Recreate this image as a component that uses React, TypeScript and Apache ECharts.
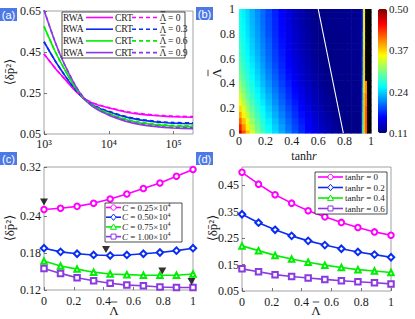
import React, { useEffect, useRef } from "react";
import * as echarts from "echarts";

const SERIF = '"Liberation Serif", "Times New Roman", "DejaVu Serif", serif';
const TXT = "#1a1a1a";
const AX = "#8c8c8c";

// ---------- panel (a) ----------
const aC = [1000, 1500, 2000, 3000, 4000, 5000, 7000, 10000, 15000, 20000, 30000, 50000, 70000, 100000, 200000];
const aRwa0 = [0.44, 0.37, 0.325, 0.262, 0.228, 0.208, 0.19, 0.177, 0.163, 0.155, 0.147, 0.14, 0.137, 0.134, 0.132];
const aRwa3 = [0.5, 0.405, 0.345, 0.268, 0.226, 0.201, 0.176, 0.158, 0.14, 0.13, 0.119, 0.11, 0.106, 0.103, 0.1];
const aRwa6 = [0.575, 0.45, 0.375, 0.278, 0.227, 0.199, 0.17, 0.149, 0.128, 0.117, 0.105, 0.096, 0.092, 0.089, 0.086];
const aRwa9 = [0.655, 0.495, 0.4, 0.29, 0.23, 0.197, 0.165, 0.142, 0.121, 0.109, 0.097, 0.087, 0.082, 0.079, 0.076];
const aCrt0 = [0.44, 0.37, 0.325, 0.263, 0.229, 0.21, 0.192, 0.179, 0.166, 0.158, 0.15, 0.143, 0.14, 0.137, 0.135];
const aCrt3 = [0.5, 0.405, 0.345, 0.269, 0.228, 0.203, 0.179, 0.161, 0.143, 0.133, 0.122, 0.113, 0.109, 0.106, 0.104];
const aCrt6 = [0.575, 0.45, 0.375, 0.279, 0.229, 0.201, 0.173, 0.152, 0.131, 0.12, 0.108, 0.099, 0.095, 0.092, 0.09];
const aCrt9 = [0.655, 0.495, 0.4, 0.291, 0.232, 0.199, 0.167, 0.145, 0.124, 0.112, 0.1, 0.09, 0.085, 0.082, 0.08];
const aLegendVals = ["0", "0.3", "0.6", "0.9"];
const aYTicks = [0.05, 0.25, 0.45, 0.65];
const aXTicks = [1000, 10000, 100000];
const aXTickLabels = ["10³", "10⁴", "10⁵"];

// ---------- panel (b) ----------
const hmXEdges = [0, 0.02, 0.05, 0.08, 0.12, 0.16, 0.2, 0.25, 0.3, 0.35, 0.4, 0.45, 0.5, 0.55, 0.6, 0.65, 0.7, 0.75, 0.8, 0.85, 0.9, 0.93, 0.94, 0.955, 0.97, 1];
const hmYEdges = [0, 0.025, 0.075, 0.125, 0.175, 0.225, 0.275, 0.325, 0.375, 0.425, 0.475, 0.525, 0.575, 0.625, 0.675, 0.725, 0.775, 0.825, 0.875, 0.925, 0.975, 1];
// rows from Λ̄ = 0 (bottom) to Λ̄ = 1 (top), columns from tanh r = 0 to 1; -1 = black (no value)
const hmRows = [
  [0.475, 0.422, 0.378, 0.34, 0.307, 0.284, 0.263, 0.243, 0.225, 0.207, 0.191, 0.176, 0.162, 0.15, 0.139, 0.13, 0.122, 0.116, 0.112, 0.113, 0.113, 0.25, 0.38, 0.42, -1],
  [0.442, 0.398, 0.36, 0.327, 0.297, 0.276, 0.257, 0.238, 0.22, 0.202, 0.186, 0.172, 0.158, 0.146, 0.136, 0.128, 0.12, 0.114, 0.112, 0.113, 0.114, 0.25, 0.38, 0.42, -1],
  [0.414, 0.378, 0.345, 0.314, 0.289, 0.27, 0.251, 0.232, 0.214, 0.197, 0.182, 0.168, 0.155, 0.143, 0.133, 0.125, 0.118, 0.113, 0.112, 0.113, 0.114, 0.24, 0.38, 0.42, -1],
  [0.389, 0.358, 0.329, 0.302, 0.28, 0.262, 0.244, 0.226, 0.208, 0.192, 0.177, 0.163, 0.151, 0.14, 0.13, 0.122, 0.116, 0.112, 0.113, 0.113, 0.114, 0.24, 0.38, 0.42, -1],
  [0.368, 0.342, 0.316, 0.293, 0.273, 0.256, 0.238, 0.22, 0.203, 0.187, 0.173, 0.159, 0.147, 0.136, 0.128, 0.12, 0.114, 0.112, 0.113, 0.114, 0.115, 0.23, 0.38, 0.42, -1],
  [0.35, 0.327, 0.304, 0.284, 0.265, 0.249, 0.232, 0.214, 0.197, 0.182, 0.168, 0.155, 0.143, 0.133, 0.125, 0.118, 0.113, 0.112, 0.113, 0.114, 0.115, 0.23, 0.38, 0.41, -1],
  [0.336, 0.314, 0.294, 0.276, 0.259, 0.243, 0.227, 0.209, 0.193, 0.177, 0.163, 0.151, 0.14, 0.131, 0.123, 0.117, 0.112, 0.113, 0.113, 0.114, 0.115, 0.22, 0.38, 0.41, -1],
  [0.322, 0.304, 0.286, 0.27, 0.253, 0.238, 0.221, 0.204, 0.188, 0.174, 0.16, 0.148, 0.137, 0.128, 0.121, 0.115, 0.112, 0.113, 0.114, 0.115, 0.116, 0.22, 0.37, 0.4, -1],
  [0.311, 0.294, 0.279, 0.263, 0.247, 0.232, 0.216, 0.199, 0.183, 0.169, 0.156, 0.144, 0.134, 0.126, 0.119, 0.113, 0.112, 0.113, 0.114, 0.115, 0.116, 0.21, 0.37, 0.4, -1],
  [0.301, 0.287, 0.273, 0.258, 0.242, 0.228, 0.211, 0.195, 0.179, 0.165, 0.153, 0.141, 0.132, 0.124, 0.117, 0.112, 0.112, 0.113, 0.114, 0.115, 0.116, 0.21, 0.37, -1, -1],
  [0.294, 0.281, 0.267, 0.253, 0.238, 0.223, 0.207, 0.191, 0.176, 0.162, 0.15, 0.139, 0.13, 0.122, 0.116, 0.112, 0.113, 0.114, 0.114, 0.115, 0.116, 0.2, 0.37, -1, -1],
  [0.288, 0.276, 0.263, 0.249, 0.234, 0.219, 0.203, 0.187, 0.173, 0.159, 0.147, 0.137, 0.128, 0.121, 0.115, 0.112, 0.113, 0.114, 0.115, 0.115, 0.116, 0.2, 0.37, -1, -1],
  [0.283, 0.271, 0.259, 0.245, 0.23, 0.216, 0.2, 0.184, 0.17, 0.157, 0.145, 0.135, 0.127, 0.119, 0.113, 0.112, 0.113, 0.114, 0.115, 0.116, 0.117, 0.2, 0.37, -1, -1],
  [0.279, 0.267, 0.255, 0.241, 0.227, 0.212, 0.197, 0.182, 0.168, 0.155, 0.143, 0.133, 0.125, 0.118, 0.113, 0.112, 0.113, 0.114, 0.115, 0.116, 0.117, 0.19, 0.37, -1, -1],
  [0.275, 0.264, 0.252, 0.238, 0.224, 0.21, 0.195, 0.179, 0.165, 0.153, 0.141, 0.132, 0.124, 0.117, 0.112, 0.112, 0.113, 0.114, 0.115, 0.116, 0.117, 0.19, 0.36, -1, -1],
  [0.272, 0.261, 0.249, 0.236, 0.221, 0.207, 0.193, 0.177, 0.163, 0.151, 0.14, 0.131, 0.123, 0.116, 0.112, 0.113, 0.113, 0.114, 0.115, 0.116, 0.117, 0.19, 0.36, -1, -1],
  [0.268, 0.258, 0.246, 0.233, 0.219, 0.205, 0.19, 0.175, 0.161, 0.15, 0.139, 0.13, 0.122, 0.116, 0.112, 0.113, 0.113, 0.115, 0.115, 0.116, 0.117, 0.19, 0.36, -1, -1],
  [0.266, 0.256, 0.244, 0.231, 0.217, 0.203, 0.188, 0.174, 0.16, 0.148, 0.138, 0.129, 0.121, 0.115, 0.112, 0.113, 0.114, 0.115, 0.115, 0.116, 0.117, 0.18, 0.36, -1, -1],
  [0.264, 0.254, 0.242, 0.229, 0.215, 0.201, 0.187, 0.173, 0.159, 0.147, 0.136, 0.128, 0.12, 0.114, 0.112, 0.113, 0.114, 0.115, 0.116, 0.116, 0.118, 0.18, 0.36, -1, -1],
  [0.262, 0.252, 0.241, 0.228, 0.214, 0.2, 0.185, 0.171, 0.158, 0.146, 0.135, 0.127, 0.12, 0.114, 0.112, 0.113, 0.114, 0.115, 0.116, 0.116, 0.118, 0.18, 0.36, -1, -1],
  [0.261, 0.251, 0.24, 0.227, 0.212, 0.199, 0.185, 0.17, 0.157, 0.145, 0.135, 0.127, 0.119, 0.114, 0.112, 0.113, 0.114, 0.115, 0.116, 0.117, 0.118, 0.18, 0.36, -1, -1],
];
const whiteLineX = [0.79, 0.6];
const whiteLineY = [0, 1];
const cbTicks = [0.11, 0.24, 0.37, 0.5];

// ---------- panel (c) ----------
const lam = [0, 0.111, 0.222, 0.333, 0.444, 0.556, 0.667, 0.778, 0.889, 1];
const cC025 = [0.251, 0.253, 0.256, 0.261, 0.268, 0.276, 0.285, 0.294, 0.305, 0.316];
const cC050 = [0.188, 0.182, 0.179, 0.177, 0.176, 0.177, 0.179, 0.181, 0.184, 0.188];
const cC075 = [0.167, 0.159, 0.154, 0.149, 0.146, 0.145, 0.144, 0.144, 0.144, 0.146];
const cC100 = [0.155, 0.147, 0.14, 0.135, 0.131, 0.128, 0.127, 0.125, 0.124, 0.124];
const cMinX = [0, 0.416, 0.794, 0.99];
const cMinY = [0.263, 0.186, 0.151, 0.134];
const cLegend = ["0.25", "0.50", "0.75", "1.00"];
const cYTicks = [0.12, 0.18, 0.24, 0.32];

// ---------- panel (d) ----------
const dT0 = [0.5, 0.455, 0.415, 0.383, 0.354, 0.331, 0.31, 0.291, 0.274, 0.261];
const dT2 = [0.341, 0.309, 0.282, 0.259, 0.24, 0.224, 0.21, 0.198, 0.188, 0.178];
const dT4 = [0.221, 0.203, 0.185, 0.171, 0.159, 0.148, 0.139, 0.131, 0.126, 0.12];
const dT6 = [0.134, 0.123, 0.112, 0.105, 0.099, 0.094, 0.089, 0.085, 0.081, 0.077];
const dLegend = ["0", "0.2", "0.4", "0.6"];
const dYTicks = [0.05, 0.15, 0.25, 0.35, 0.45];

const COLORS = ["#ff00ff", "#0a2df0", "#00ee00", "#8a3be0"];
const JET = ["#000080", "#0000ff", "#0080ff", "#00ffff", "#80ff80", "#ffff00", "#ff8000", "#ff0000", "#800000"];
const SYMBOLS = ["emptyCircle", "emptyDiamond", "emptyTriangle", "emptyRect"];

const G = {
  a: { left: 44, top: 11, width: 149, height: 123 },
  b: { left: 239, top: 9, width: 132, height: 124 },
  cb: { left: 378, top: 9, width: 9, height: 124 },
  c: { left: 44, top: 167, width: 149, height: 123 },
  d: { left: 242, top: 167, width: 149, height: 124 },
};

const lbl = (extra: any = {}) => ({ fontFamily: SERIF, fontSize: 12, color: TXT, ...extra });
const tick = { show: true, inside: true, length: 3, lineStyle: { color: "#555", width: 0.8 } };

function zip(xs: number[], ys: number[]) {
  return xs.map((x, i) => [x, ys[i]]);
}

// Λ with a macron drawn as a short line above it
function lambdaBar(x: number, y: number, size: number, rotation = 0, z = 13) {
  const w = size * 0.5;
  const top = -size * 0.5;
  return {
    type: "group", x, y, rotation, z,
    children: [
      { type: "text", x: 0, y: 0, z, style: { text: "Λ", fill: TXT, font: `${size}px ${SERIF}`, textAlign: "center", textVerticalAlign: "middle" } },
      { type: "line", z, shape: { x1: -w / 2, y1: top - 1.5, x2: w / 2, y2: top - 1.5 }, style: { stroke: TXT, lineWidth: 0.8 } },
    ],
  };
}

function legendSymbol(kind: number, cx: number, cy: number, color: string) {
  const st = { fill: "#fff", stroke: color, lineWidth: 1 };
  if (kind === 0) return { type: "circle", shape: { cx, cy, r: 2.6 }, style: st };
  if (kind === 1) return { type: "polygon", shape: { points: [[cx, cy - 3.2], [cx + 2.6, cy], [cx, cy + 3.2], [cx - 2.6, cy]] }, style: st };
  if (kind === 2) return { type: "polygon", shape: { points: [[cx, cy - 3], [cx + 3, cy + 2.4], [cx - 3, cy + 2.4]] }, style: st };
  return { type: "rect", shape: { x: cx - 2.5, y: cy - 2.5, width: 5, height: 5 }, style: st };
}

function buildOption() {
  const hmData: number[][] = [];
  hmRows.forEach((row, j) => {
    row.forEach((v, i) => {
      hmData.push([hmXEdges[i], hmXEdges[i + 1], hmYEdges[j], hmYEdges[j + 1], v]);
    });
  });

  const series: any[] = [];
  // (a)
  const aR = [aRwa0, aRwa3, aRwa6, aRwa9];
  const aT = [aCrt0, aCrt3, aCrt6, aCrt9];
  aR.forEach((d, k) => {
    series.push({
      type: "line", xAxisIndex: 0, yAxisIndex: 0, data: zip(aC, d), smooth: 0.3, symbol: "none",
      lineStyle: { color: COLORS[k], width: 1.6 }, z: 2,
    });
  });
  aT.forEach((d, k) => {
    series.push({
      type: "line", xAxisIndex: 0, yAxisIndex: 0, data: zip(aC, d), smooth: 0.3, symbol: "none",
      lineStyle: { color: COLORS[k], width: 1.6, type: [4, 3] }, z: 3,
    });
  });
  // (b) heatmap
  const hmIndex = series.length;
  series.push({
    type: "custom", xAxisIndex: 1, yAxisIndex: 1, data: hmData,
    encode: { x: [0, 1], y: [2, 3] },
    renderItem: (_p: any, api: any) => {
      const p0 = api.coord([api.value(0), api.value(3)]);
      const p1 = api.coord([api.value(1), api.value(2)]);
      const v = api.value(4);
      return {
        type: "rect",
        shape: { x: p0[0], y: p0[1], width: p1[0] - p0[0] + 0.6, height: p1[1] - p0[1] + 0.6 },
        style: { fill: v < 0 ? "#000" : api.visual("color") },
      };
    },
    silent: true, z: 1,
  });
  series.push({
    type: "line", xAxisIndex: 1, yAxisIndex: 1, data: zip(whiteLineX, whiteLineY), symbol: "none",
    lineStyle: { color: "#fff", width: 1.1 }, z: 5,
  });
  // (c)
  [cC025, cC050, cC075, cC100].forEach((d, k) => {
    series.push({
      type: "line", xAxisIndex: 3, yAxisIndex: 3, data: zip(lam, d), symbol: SYMBOLS[k], symbolSize: k === 1 ? 6.5 : 5.5,
      lineStyle: { color: COLORS[k], width: 1.6 }, itemStyle: { color: COLORS[k], borderWidth: 1 }, z: 3,
    });
  });
  series.push({
    type: "scatter", xAxisIndex: 3, yAxisIndex: 3, data: zip(cMinX, cMinY), symbol: "triangle", symbolRotate: 180,
    symbolSize: [8, 7], itemStyle: { color: "#000" }, z: 6,
  });
  // (d)
  [dT0, dT2, dT4, dT6].forEach((d, k) => {
    series.push({
      type: "line", xAxisIndex: 4, yAxisIndex: 4, data: zip(lam, d), symbol: SYMBOLS[k], symbolSize: k === 1 ? 6.5 : 5.5,
      lineStyle: { color: COLORS[k], width: 1.6 }, itemStyle: { color: COLORS[k], borderWidth: 1 }, z: 3,
    });
  });

  const graphic: any[] = [];
  // panel tags
  const tags = [["(a)", 0, 8], ["(b)", 196, 7], ["(c)", 0, 152], ["(d)", 196, 152]] as const;
  tags.forEach(([t, x, y]) => {
    graphic.push({ type: "rect", shape: { x, y, width: 17, height: 13 }, style: { fill: "#4d79e6" }, z: 20 });
    graphic.push({
      type: "text", x: x + 8.5, y: y + 6.8, z: 21,
      style: { text: t, fill: "#fff", font: '11px "Liberation Sans", Arial, sans-serif', textAlign: "center", textVerticalAlign: "middle" },
    });
  });
  // axis titles
  const yLab = "⟨δp̄²⟩";
  [[9, 72], [9, 228], [212, 228]].forEach(([x, y]) => {
    graphic.push({
      type: "text", x, y, rotation: Math.PI / 2, z: 10,
      style: { text: yLab, fill: TXT, font: `13px ${SERIF}`, textAlign: "center", textVerticalAlign: "middle" },
    });
  });
  graphic.push(lambdaBar(216, 73, 13, Math.PI / 2, 10));
  graphic.push({
    type: "text", x: 304, y: 156, z: 10,
    style: {
      text: "tanh{i|r}", fill: TXT, font: `12px ${SERIF}`, textAlign: "center", textVerticalAlign: "middle",
      rich: { i: { fontStyle: "italic", fontFamily: SERIF, fontSize: 12, fill: TXT } },
    },
  });
  graphic.push(lambdaBar(114, 310, 13, 0, 10));
  graphic.push(lambdaBar(316, 310, 13, 0, 10));

  // legend (a)
  graphic.push({ type: "rect", shape: { x: 62, y: 12, width: 123, height: 46 }, style: { fill: "#fff", stroke: "#222", lineWidth: 0.8 }, z: 12 });
  aLegendVals.forEach((t, k) => {
    const cy = 17.5 + k * 11.7;
    graphic.push({ type: "text", x: 63, y: cy, z: 13, style: { text: "RWA", fill: TXT, font: `9.5px ${SERIF}`, textVerticalAlign: "middle" } });
    graphic.push({ type: "line", shape: { x1: 86, y1: cy, x2: 113, y2: cy }, style: { stroke: COLORS[k], lineWidth: 1.6 }, z: 13 });
    graphic.push({ type: "text", x: 115, y: cy, z: 13, style: { text: "CRT", fill: TXT, font: `9.5px ${SERIF}`, textVerticalAlign: "middle" } });
    graphic.push({ type: "line", shape: { x1: 132, y1: cy, x2: 158, y2: cy }, style: { stroke: COLORS[k], lineWidth: 1.6, lineDash: [4, 3] }, z: 13 });
    graphic.push(lambdaBar(163, cy + 0.5, 9.5));
    graphic.push({ type: "text", x: 168, y: cy, z: 13, style: { text: `= ${t}`, fill: TXT, font: `9.5px ${SERIF}`, textVerticalAlign: "middle" } });
  });

  // legend (c)
  graphic.push({ type: "rect", shape: { x: 105, y: 203, width: 77, height: 39 }, style: { fill: "#fff", stroke: "#222", lineWidth: 0.8 }, z: 12 });
  cLegend.forEach((t, k) => {
    const cy = 207.5 + k * 9.7;
    graphic.push({ type: "line", shape: { x1: 106, y1: cy, x2: 121, y2: cy }, style: { stroke: COLORS[k], lineWidth: 1.6 }, z: 13 });
    graphic.push({ ...legendSymbol(k, 113.5, cy, COLORS[k]), z: 14 });
    graphic.push({
      type: "text", x: 122, y: cy, z: 13,
      style: {
        text: `{i|C} = ${t}×10{s|4}`, fill: TXT, font: `9px ${SERIF}`, textVerticalAlign: "middle",
        rich: { i: { fontStyle: "italic", fontFamily: SERIF, fontSize: 9, fill: TXT }, s: { fontSize: 6, fontFamily: SERIF, fill: TXT, padding: [0, 0, 5, 0] } },
      },
    });
  });

  // legend (d)
  graphic.push({ type: "rect", shape: { x: 315, y: 172, width: 72, height: 42 }, style: { fill: "#fff", stroke: "#222", lineWidth: 0.8 }, z: 12 });
  dLegend.forEach((t, k) => {
    const cy = 177 + k * 10.5;
    graphic.push({ type: "line", shape: { x1: 318, y1: cy, x2: 343, y2: cy }, style: { stroke: COLORS[k], lineWidth: 1.6 }, z: 13 });
    graphic.push({ ...legendSymbol(k, 330.5, cy, COLORS[k]), z: 14 });
    graphic.push({
      type: "text", x: 345, y: cy, z: 13,
      style: {
        text: `tanh{i|r} = ${t}`, fill: TXT, font: `9px ${SERIF}`, textVerticalAlign: "middle",
        rich: { i: { fontStyle: "italic", fontFamily: SERIF, fontSize: 9, fill: TXT } },
      },
    });
  });

  const boxed = { show: true, borderColor: AX, borderWidth: 0.8, backgroundColor: "transparent" };
  const noLine = { show: false };

  return {
    animation: false,
    backgroundColor: "#fff",
    grid: [
      { ...G.a, ...boxed },
      { ...G.b, show: false },
      { ...G.cb, show: false },
      { ...G.c, ...boxed },
      { ...G.d, ...boxed },
    ],
    xAxis: [
      {
        gridIndex: 0, type: "log", logBase: 10, min: 1000, max: 200000, axisLine: noLine, splitLine: { show: false },
        axisTick: { ...tick, customValues: aXTicks },
        axisLabel: {
          ...lbl(), margin: 4, customValues: aXTicks,
          formatter: (v: number) => aXTickLabels[aXTicks.indexOf(Math.round(v))] ?? "",
        },
      },
      {
        gridIndex: 1, type: "value", min: 0, max: 1, interval: 0.2, axisLine: noLine, axisTick: { show: false },
        splitLine: { show: false }, axisLabel: { ...lbl(), margin: 2 },
      },
      { gridIndex: 2, type: "value", min: 0, max: 1, show: false },
      {
        gridIndex: 3, type: "value", min: 0, max: 1, interval: 0.2, axisLine: noLine, axisTick: tick,
        splitLine: { show: false }, axisLabel: { ...lbl(), margin: 5 },
      },
      {
        gridIndex: 4, type: "value", min: 0, max: 1, interval: 0.2, axisLine: noLine, axisTick: tick,
        splitLine: { show: false }, axisLabel: { ...lbl(), margin: 5 },
      },
    ],
    yAxis: [
      {
        gridIndex: 0, type: "value", min: 0.05, max: 0.65, axisLine: noLine, splitLine: { show: false },
        axisTick: { ...tick, customValues: aYTicks },
        axisLabel: { ...lbl(), margin: 3, customValues: aYTicks, formatter: (v: number) => v.toFixed(2) },
      },
      {
        gridIndex: 1, type: "value", min: 0, max: 1, interval: 0.2, axisLine: noLine, axisTick: { show: false },
        splitLine: { show: false }, axisLabel: { ...lbl(), margin: 4 },
      },
      {
        gridIndex: 2, type: "value", position: "right", min: 0.11, max: 0.5, axisLine: noLine, axisTick: { show: false },
        splitLine: { show: false },
        axisLabel: { ...lbl({ fontSize: 11 }), margin: 2, customValues: cbTicks, formatter: (v: number) => v.toFixed(2) },
      },
      {
        gridIndex: 3, type: "value", min: 0.12, max: 0.32, axisLine: noLine, splitLine: { show: false },
        axisTick: { ...tick, customValues: cYTicks },
        axisLabel: { ...lbl(), margin: 3, customValues: cYTicks, formatter: (v: number) => v.toFixed(2) },
      },
      {
        gridIndex: 4, type: "value", min: 0.05, max: 0.52, axisLine: noLine, splitLine: { show: false },
        axisTick: { ...tick, customValues: dYTicks },
        axisLabel: { ...lbl(), margin: 3, customValues: dYTicks, formatter: (v: number) => v.toFixed(2) },
      },
    ],
    visualMap: [
      {
        type: "continuous", seriesIndex: hmIndex, dimension: 4, min: 0.11, max: 0.5,
        inRange: { color: JET }, outOfRange: { color: "#000" },
        calculable: false, realtime: false, left: G.cb.left, top: G.cb.top, itemWidth: G.cb.width, itemHeight: G.cb.height,
        padding: 0, text: null, showLabel: false, hoverLink: false, orient: "vertical",
      },
    ],
    series,
    graphic,
  };
}

export default function App() {
  const ref = useRef<HTMLDivElement>(null);
  useEffect(() => {
    if (!ref.current) return;
    const chart = echarts.init(ref.current, null, { renderer: "svg" });
    chart.setOption(buildOption() as any);
    return () => chart.dispose();
  }, []);
  return (
    <div
      ref={ref}
      style={{ position: "absolute", left: 0, top: 0, width: 415, height: 319, background: "#fff" }}
    />
  );
}
